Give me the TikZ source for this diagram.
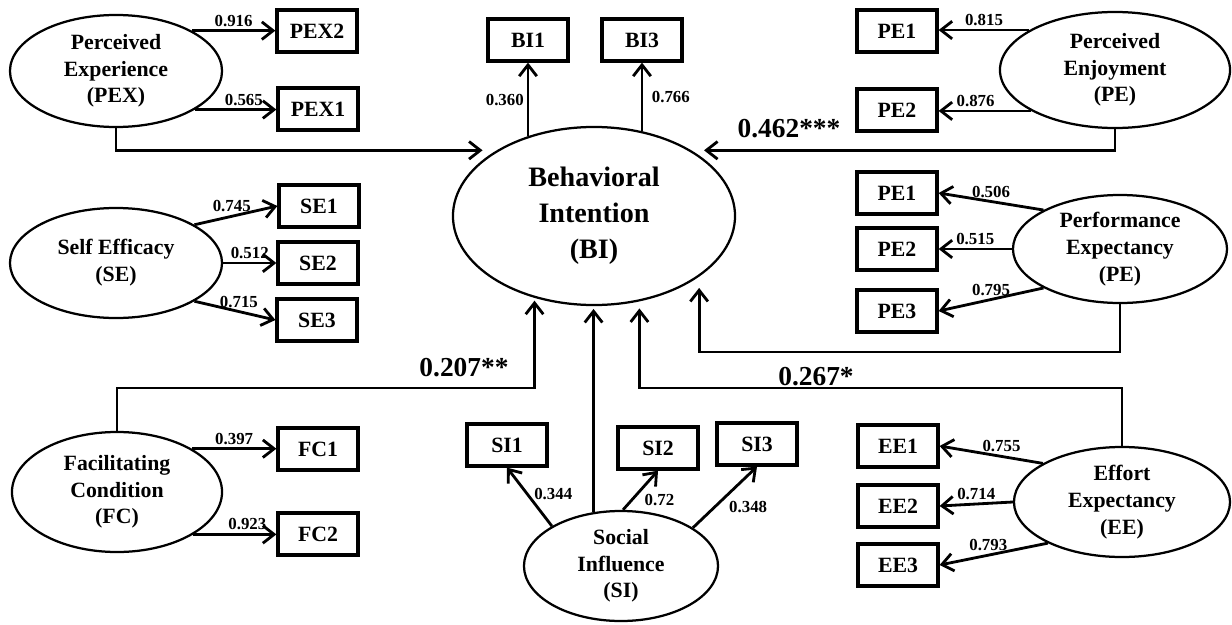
\documentclass[tikz,border=0pt]{standalone}
\usepackage{fontspec}
\setmainfont{Liberation Serif}
\usetikzlibrary{shapes.geometric,arrows.meta}

\begin{document}
\begin{tikzpicture}[
x=0.025cm, y=-0.025cm,
latent/.style={
	ellipse, draw, line width=1.6pt,
	inner sep=0pt, align=center,
	font=\fontsize{15.5}{19}\selectfont\bfseries
},
item/.style={
	rectangle, draw, line width=2.3pt,
	minimum width=2cm, minimum height=1.05cm,
	inner sep=0pt,
	font=\fontsize{15.5}{19}\selectfont\bfseries
},
load/.style={line width=2pt, -{Straight Barb[length=8pt,width=12.5pt]}},
struct/.style={load},
lbl/.style={font=\fontsize{12}{13}\selectfont\bfseries, inner sep=2pt},
coef/.style={font=\fontsize{19.5}{22}\selectfont\bfseries}
]
\useasboundingbox (0,0) rectangle (1232,625);

% latent constructs
\node[latent, minimum width=5.3cm, minimum height=2.8cm] (PEX) at (116,71) {Perceived\\Experience\\(PEX)};
\node[latent, minimum width=5.3cm, minimum height=2.75cm] (SE) at (116,263) {Self Efficacy\\(SE)};
\node[latent, minimum width=5.25cm, minimum height=3cm] (FC) at (117,492) {Facilitating\\Condition\\(FC)};
\node[latent, minimum width=7.05cm, minimum height=4.45cm,
	font=\fontsize{20}{25.6}\selectfont\bfseries] (BI) at (594,216) {Behavioral\\Intention\\(BI)};
\node[latent, minimum width=5.75cm, minimum height=2.9cm] (PEJ) at (1115,70) {Perceived\\Enjoyment\\(PE)};
\node[latent, minimum width=5.35cm, minimum height=2.7cm] (PFE) at (1120,249) {Performance\\Expectancy\\(PE)};
\node[latent, minimum width=5.4cm, minimum height=2.75cm] (EE) at (1122,502) {Effort\\Expectancy\\(EE)};
\node[latent, minimum width=4.85cm, minimum height=2.75cm] (SI) at (621,566) {Social\\Influence\\(SI)};

% indicators
\node[item] (PEX2) at (317,31) {PEX2};
\node[item] (PEX1) at (318,109) {PEX1};
\node[item] (BI1) at (528,40) {BI1};
\node[item] (BI3) at (642,40) {BI3};
\node[item] (PE1a) at (897,31) {PE1};
\node[item] (PE2a) at (897,110) {PE2};
\node[item] (SE1) at (319,206) {SE1};
\node[item] (SE2) at (318,263) {SE2};
\node[item] (SE3) at (317,320) {SE3};
\node[item] (PE1b) at (897,193) {PE1};
\node[item] (PE2b) at (897,249) {PE2};
\node[item] (PE3b) at (897,311) {PE3};
\node[item] (FC1) at (318,449) {FC1};
\node[item] (FC2) at (318,534) {FC2};
\node[item] (SI1) at (507,445) {SI1};
\node[item] (SI2) at (658,448) {SI2};
\node[item] (SI3) at (757,444) {SI3};
\node[item] (EE1) at (898,446) {EE1};
\node[item] (EE2) at (898,506) {EE2};
\node[item] (EE3) at (898,565) {EE3};

% loadings
\draw[load] (PEX.28) -- (PEX.28 -| PEX2.west) node[lbl, midway, above] {0.916};
\draw[load] (PEX.-26) -- (PEX.-26 -| PEX1.west) node[lbl, pos=0.6, above] {0.565};
\draw[load] (SE.26) -- (SE1.west) node[lbl, pos=0.45, above] {0.745};
\draw[load] (SE.east) -- (SE2.west) node[lbl, midway, above] {0.512};
\draw[load] (SE.-26) -- (SE3.west) node[lbl, pos=0.55, above] {0.715};
\draw[load] (FC.30) -- (FC.30 -| FC1.west) node[lbl, midway, above] {0.397};
\draw[load] (FC.-29) -- (FC.-29 -| FC2.west) node[lbl, pos=0.65, above] {0.923};
\draw[load] (BI1.south |- BI.130) -- (BI1.south) node[lbl, midway, left] {0.360};
\draw[load] (BI3.south |- BI.61) -- (BI3.south) node[lbl, midway, right=4pt] {0.766};
\draw[load] (PEJ.155) -- (PEJ.155 -| PE1a.east) node[lbl, midway, above] {0.815};
\draw[load] (PEJ.-154) -- (PEJ.-154 -| PE2a.east) node[lbl, pos=0.6, above] {0.876};
\draw[load] (PFE.153) -- (PE1b.east) node[lbl, midway, above] {0.506};
\draw[load] (PFE.west) -- (PE2b.east) node[lbl, midway, above] {0.515};
\draw[load] (PFE.207) -- (PE3b.east) node[lbl, midway, above] {0.795};
\draw[load] (EE.154) -- (EE1.east) node[lbl, pos=0.4, above] {0.755};
\draw[load] (EE.west) -- (EE2.east) node[lbl, midway, above] {0.714};
\draw[load] (EE.209) -- (EE3.east) node[lbl, pos=0.55, above] {0.793};
\draw[load] (SI.150) -- (SI1.south) node[lbl, pos=0.55, right=2pt] {0.344};
\draw[load] (SI.88) -- (SI2.south) node[lbl, midway, below right] {0.72};
\draw[load] (SI.28) -- (SI3.south) node[lbl, midway, below right] {0.348};

% structural paths
\coordinate (midbus) at (0,352);
\coordinate (lowbus) at (0,388);
\draw[struct, shorten >=10pt] (PEX.south) |- (BI.146);
\draw[struct, shorten >=9pt] (PEJ.south) |- (BI.34);
\draw[struct, shorten >=8pt] (PFE.south) |- (midbus -| BI.330) -- (BI.330);
\draw[struct, shorten >=2pt] (FC.north) |- (lowbus -| BI.234) -- (BI.234);
\draw[struct, shorten >=5pt] (EE.north) |- (lowbus -| BI.298) -- (BI.298);
\draw[struct, shorten >=2pt] (SI.117) -- (SI.117 |- BI.south);

\node[coef] (b462) at (789,129) {0.462***};
\node[coef] (b207) at (464,368) {0.207**};
\node[coef] (b267) at (816,377) {0.267*};
\end{tikzpicture}
\end{document}
